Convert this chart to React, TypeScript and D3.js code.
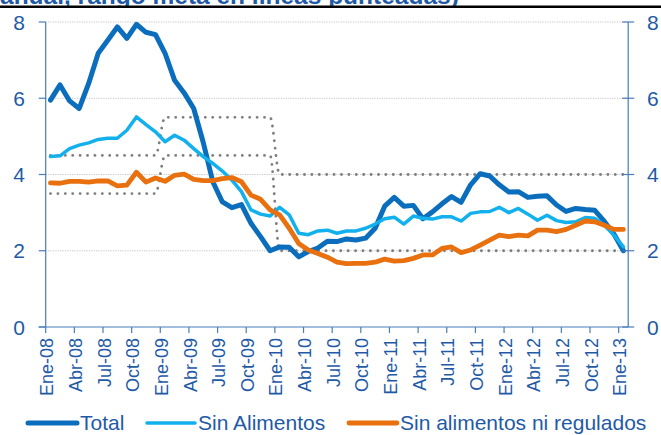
import React from 'react';
import * as d3 from 'd3';

// months Ene-08 .. Ene-13
const monthNames = ['Ene', 'Feb', 'Mar', 'Abr', 'May', 'Jun', 'Jul', 'Ago', 'Sep', 'Oct', 'Nov', 'Dic'];
const months = d3.range(61).map(i => `${monthNames[i % 12]}-${String(8 + Math.floor(i / 12)).padStart(2, '0')}`);

const total = [
  5.95, 6.35, 5.93, 5.73, 6.39, 7.18, 7.52, 7.87, 7.57, 7.94, 7.73, 7.67,
  7.18, 6.47, 6.14, 5.73, 4.84, 3.81, 3.28, 3.13, 3.21, 2.72, 2.37, 2.00,
  2.10, 2.09, 1.84, 1.98, 2.07, 2.25, 2.24, 2.31, 2.28, 2.33, 2.59, 3.17,
  3.40, 3.17, 3.19, 2.84, 3.02, 3.23, 3.42, 3.27, 3.73, 4.02, 3.96, 3.73,
  3.54, 3.55, 3.40, 3.43, 3.44, 3.20, 3.03, 3.11, 3.08, 3.06, 2.77, 2.44,
  2.00,
];

const sinAlimentos = [
  4.47, 4.49, 4.68, 4.77, 4.83, 4.92, 4.95, 4.95, 5.16, 5.51, 5.31, 5.12,
  4.86, 5.03, 4.90, 4.68, 4.47, 4.29, 4.09, 3.85, 3.55, 3.07, 2.96, 2.91,
  3.14, 2.94, 2.46, 2.42, 2.52, 2.54, 2.46, 2.52, 2.52, 2.59, 2.70, 2.84,
  2.88, 2.70, 2.91, 2.85, 2.83, 2.89, 2.89, 2.78, 2.98, 3.02, 3.03, 3.14,
  3.00, 3.11, 2.96, 2.80, 2.93, 2.79, 2.74, 2.76, 2.87, 2.85, 2.67, 2.41,
  2.10,
];

const sinAlimentosNiRegulados = [
  3.78, 3.77, 3.82, 3.82, 3.80, 3.83, 3.83, 3.70, 3.72, 4.06, 3.80, 3.91,
  3.82, 3.98, 4.01, 3.87, 3.84, 3.84, 3.89, 3.92, 3.81, 3.46, 3.35, 3.07,
  2.94, 2.59, 2.19, 2.02, 1.93, 1.83, 1.70, 1.66, 1.67, 1.67, 1.70, 1.78,
  1.73, 1.74, 1.80, 1.89, 1.89, 2.06, 2.10, 1.95, 2.02, 2.15, 2.28, 2.41,
  2.37, 2.41, 2.39, 2.54, 2.54, 2.50, 2.56, 2.67, 2.78, 2.76, 2.67, 2.56,
  2.56,
];

// target range per year: 2008, 2009, 2010 onward
const metaYears = [2008, 2009, 2010, 2011, 2012, 2013];
const metaUpper = [4.5, 5.5, 4, 4, 4, 4];
const metaLower = [3.5, 4.5, 2, 2, 2, 2];

const yTicks = [0, 2, 4, 6, 8];

const series = [
  { name: 'Total', values: total, color: '#0A6EBD', width: 5 },
  { name: 'Sin Alimentos', values: sinAlimentos, color: '#12B0EC', width: 3.5 },
  { name: 'Sin alimentos ni regulados', values: sinAlimentosNiRegulados, color: '#E8700F', width: 4.8 },
];

const W = 661;
const H = 435;
const textColor = '#1F5AA6';
const axisColor = '#4A7DBA';

const App = () => {
  const x = d3.scaleLinear().domain([0, months.length]).range([45.7, 628.2]);
  const y = d3.scaleLinear().domain([0, 8]).range([327, 22]);
  const px = (i: number) => x(i + 0.5);

  const line = d3.line<number>()
    .x((d, i) => px(i))
    .y(d => y(d));

  const band = d3.line<number>()
    .x((d, i) => px(i))
    .y(d => y(d))
    .curve(d3.curveMonotoneX);

  const upper = months.map((m, i) => metaUpper[metaYears.indexOf(2008 + Math.floor(i / 12))]);
  const lower = months.map((m, i) => metaLower[metaYears.indexOf(2008 + Math.floor(i / 12))]);

  const tickIdx = d3.range(0, months.length, 3);

  const legendItems = [
    { s: series[0], x0: 28, x1: 77 },
    { s: series[1], x0: 147, x1: 195 },
    { s: series[2], x0: 349, x1: 397 },
  ];

  return (
    <svg width={W} height={H} style={{ position: 'absolute', left: 0, top: 0, fontFamily: 'Arial, "Liberation Sans", sans-serif' }}>
      <rect width={W} height={H} fill="#fff" />
      {/* title is cropped at the top of the picture, only its lower edge shows */}
      <text x={0} y={3.5} fontSize={24.5} fontWeight="bold" fill={textColor}>anual, rango meta en líneas punteadas)</text>
      <rect x={0} y={5.5} width={W} height={2.5} fill="#000" />
      <rect x={0} y={8} width={W} height={10} fill="#fff" />

      {yTicks.filter(t => t > 0).map(t => (
        <line key={t} x1={x(0)} x2={x(months.length)} y1={y(t)} y2={y(t)}
          stroke="#b5b5b5" strokeWidth={0.8} strokeDasharray="1.2 1.2" />
      ))}

      {[upper, lower].map((d, k) => (
        <path key={k} d={band(d) || ''} fill="none" stroke="#7f7f7f" strokeWidth={2.8}
          strokeLinecap="round" strokeDasharray="0.1 7.3" />
      ))}

      {series.map(s => (
        <path key={s.name} d={line(s.values) || ''} fill="none" stroke={s.color}
          strokeWidth={s.width} strokeLinejoin="round" strokeLinecap="round" />
      ))}

      {/* axes */}
      <line x1={x(0)} x2={x(0)} y1={y(8)} y2={y(0)} stroke={axisColor} strokeWidth={1.2} />
      <line x1={x(months.length)} x2={x(months.length)} y1={y(8)} y2={y(0)} stroke={axisColor} strokeWidth={1.2} />
      <line x1={x(0) - 7} x2={x(months.length)} y1={y(0)} y2={y(0)} stroke={axisColor} strokeWidth={1.2} />
      {yTicks.map(t => (
        <g key={t}>
          <line x1={x(0) - 7} x2={x(0)} y1={y(t)} y2={y(t)} stroke={axisColor} strokeWidth={1.2} />
          <line x1={x(months.length) - 6} x2={x(months.length) + 6} y1={y(t)} y2={y(t)} stroke={axisColor} strokeWidth={1.2} />
          <text x={25} y={y(t)} dy="0.36em" textAnchor="end" fontSize={21} fill={textColor}>{t}</text>
          <text x={647} y={y(t)} dy="0.36em" textAnchor="start" fontSize={21} fill={textColor}>{t}</text>
        </g>
      ))}
      {tickIdx.map(i => (
        <g key={i}>
          <line x1={x(i)} x2={x(i)} y1={y(0)} y2={y(0) + 6} stroke={axisColor} strokeWidth={1.2} />
          <text transform={`translate(${x(i)},${y(0) + 11}) rotate(-90)`} dy="0.42em"
            textAnchor="end" fontSize={18} fill={textColor}>{months[i]}</text>
        </g>
      ))}

      {/* legend */}
      {legendItems.map(({ s, x0, x1 }) => (
        <g key={s.name}>
          <line x1={x0} x2={x1} y1={423} y2={423} stroke={s.color} strokeWidth={s.width}
            strokeLinecap="round" />
          <text x={x1 + 3} y={430} fontSize={21} fill={textColor}>{s.name}</text>
        </g>
      ))}
    </svg>
  );
};

export default App;
